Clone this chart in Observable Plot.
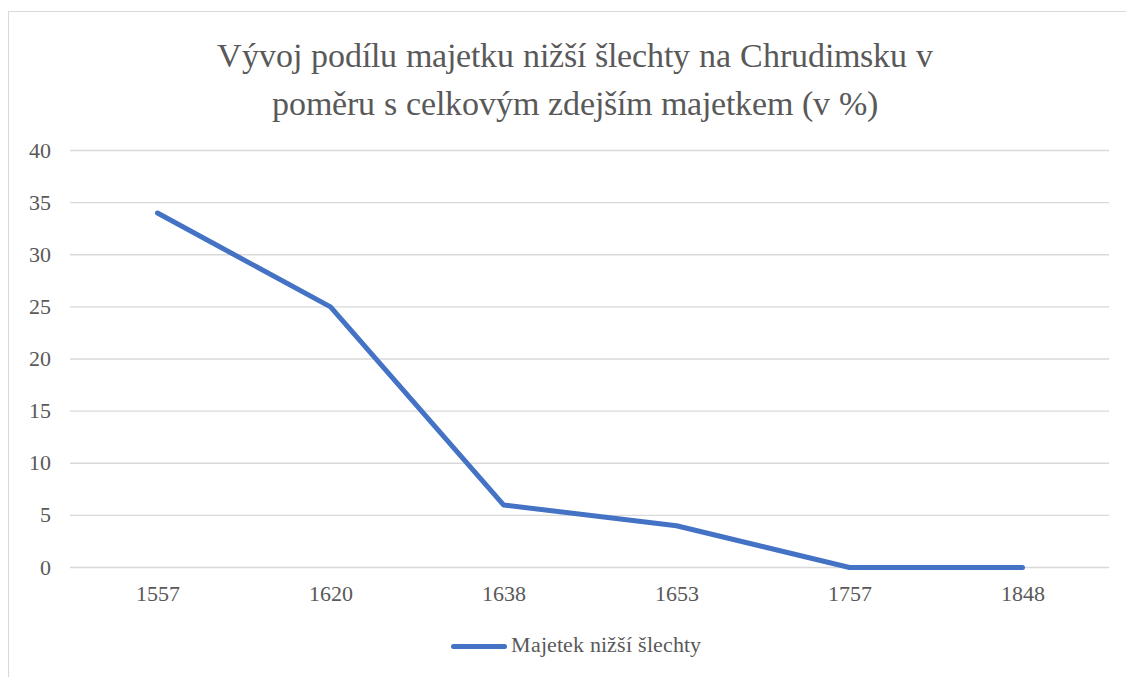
<!DOCTYPE html>
<html><head><meta charset="utf-8">
<script src="https://cdn.jsdelivr.net/npm/d3@7"></script>
<script src="https://cdn.jsdelivr.net/npm/@observablehq/plot@0.6"></script>
<style>
@font-face{font-family:'ChartSerif';src:local('Liberation Serif'),local('LiberationSerif'),local('Liberation Serif Regular'),local('LiberationSerif-Regular');}
body{margin:0;background:#fff}
.ser{font-family:'ChartSerif','Liberation Serif',serif}
</style></head>
<body>
<div class="ser" style="position:relative;width:1126px;height:677px;font-family:'ChartSerif','Liberation Serif',serif">
<div style="position:absolute;left:8px;top:11px;width:1118px;height:666px;border-left:1px solid #d9d9d9;border-top:1px solid #d9d9d9;box-sizing:border-box"></div>
<div id="c" style="position:absolute;left:0;top:0"></div>
<div class="ser" style="position:absolute;left:8px;top:32px;width:1134px;text-align:center;font-size:34px;line-height:48px;color:#595959;font-family:'ChartSerif','Liberation Serif',serif">Vývoj podílu majetku nižší šlechty na Chrudimsku v<br>poměru s celkovým zdejším majetkem (v %)</div>
<div class="ser" style="position:absolute;left:0;top:632px;width:1152px;text-align:center;font-size:22px;color:#595959;font-family:'ChartSerif','Liberation Serif',serif"><span style="display:inline-block;width:56px;height:5px;background:#4472C4;border-radius:3px;vertical-align:middle;margin-right:4px"></span>Majetek nižší šlechty</div>
</div>
<script>
const years = ["1557", "1620", "1638", "1653", "1757", "1848"];
const values = [34, 25, 6, 4, 0, 0];
const yTicks = [0, 5, 10, 15, 20, 25, 30, 35, 40];
const seriesName = "Majetek nižší šlechty";
const data = years.map((y, i) => ({year: y, value: values[i]}));
const ch = Plot.plot({
  width: 1126, height: 677,
  marginTop: 150, marginBottom: 110, marginLeft: 70, marginRight: 17,
  style: {fontFamily: "'ChartSerif', 'Liberation Serif', serif", fontSize: "22px", color: "#595959", background: "transparent", overflow: "visible"},
  x: {type: "point", domain: years, padding: 0.5, label: null},
  y: {domain: [0, 40], label: null},
  marks: [
    Plot.gridY(yTicks, {stroke: "#d9d9d9", strokeOpacity: 1, strokeWidth: 1.3}),
    Plot.axisX({tickSize: 0, tickPadding: 18, fill: "#595959"}),
    Plot.axisY(yTicks, {tickSize: 0, tickPadding: 20, fill: "#595959"}),
    Plot.line(data, {x: "year", y: "value", stroke: "#4472C4", strokeWidth: 5, strokeLinejoin: "round", strokeLinecap: "round"})
  ]
});
document.getElementById("c").appendChild(ch);
</script>
</body></html>
